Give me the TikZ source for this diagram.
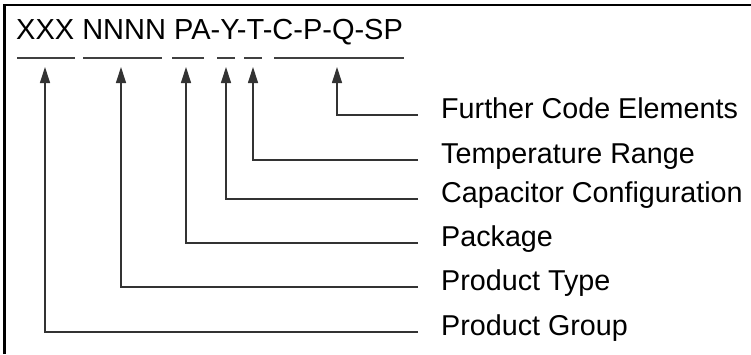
\documentclass[tikz,border=0pt]{standalone}
\usepackage{fontspec}
\setmainfont{Liberation Sans}
\usetikzlibrary{arrows.meta}

\begin{document}
\begin{tikzpicture}[
  x=1pt, y=-1pt,
  code/.style={font=\fontsize{29}{34}\selectfont, inner sep=0pt},
  lbl/.style={font=\fontsize{28.7}{34}\selectfont, inner sep=0pt, anchor=west, text height=0.716em, text depth=0pt},
  seg/.style={line width=1.2pt, black!75},
  arr/.style={-{Triangle[length=16pt, width=10pt]}, line width=1.2pt, black!80},
  frame/.style={line width=2.5pt, black}
]
  \useasboundingbox (0,0) rectangle (751,354);
  % frame, top and left edge only
  \draw[frame] (4.5,354) -- (4.5,5) -- (751,5);

  % the code
  \node[code, anchor=base west] (code) at (16,39) {XXX NNNN PA-Y-T-C-P-Q-SP};

  % underlines of the code parts
  \draw[seg] (17,58) -- (75,58);
  \draw[seg] (83,58) -- (162,58);
  \draw[seg] (172,58) -- (204,58);
  \draw[seg] (217,58) -- (235,58);
  \draw[seg] (244,58) -- (262,58);
  \draw[seg] (274,58) -- (404,58);

  % arrow tips below the underlines
  \coordinate (tgroup) at (45,67);
  \coordinate (ttype) at (121,67);
  \coordinate (tpack) at (186,67);
  \coordinate (tcap) at (226,67);
  \coordinate (ttemp) at (253,67);
  \coordinate (tfurther) at (337,67);

  % labels
  \node[lbl] (further) at (441,115) {Further Code Elements};
  \node[lbl] (temp) at (441,160) {Temperature Range};
  \node[lbl] (cap) at (441,199) {Capacitor Configuration};
  \node[lbl] (pack) at (441,243) {Package};
  \node[lbl] (type) at (441,287) {Product Type};
  \node[lbl] (group) at (441,332) {Product Group};

  \draw[arr] ([xshift=-23pt]further.west) -| (tfurther);
  \draw[arr] ([xshift=-23pt]temp.west) -| (ttemp);
  \draw[arr] ([xshift=-23pt]cap.west) -| (tcap);
  \draw[arr] ([xshift=-23pt]pack.west) -| (tpack);
  \draw[arr] ([xshift=-23pt]type.west) -| (ttype);
  \draw[arr] ([xshift=-23pt]group.west) -| (tgroup);
\end{tikzpicture}
\end{document}
